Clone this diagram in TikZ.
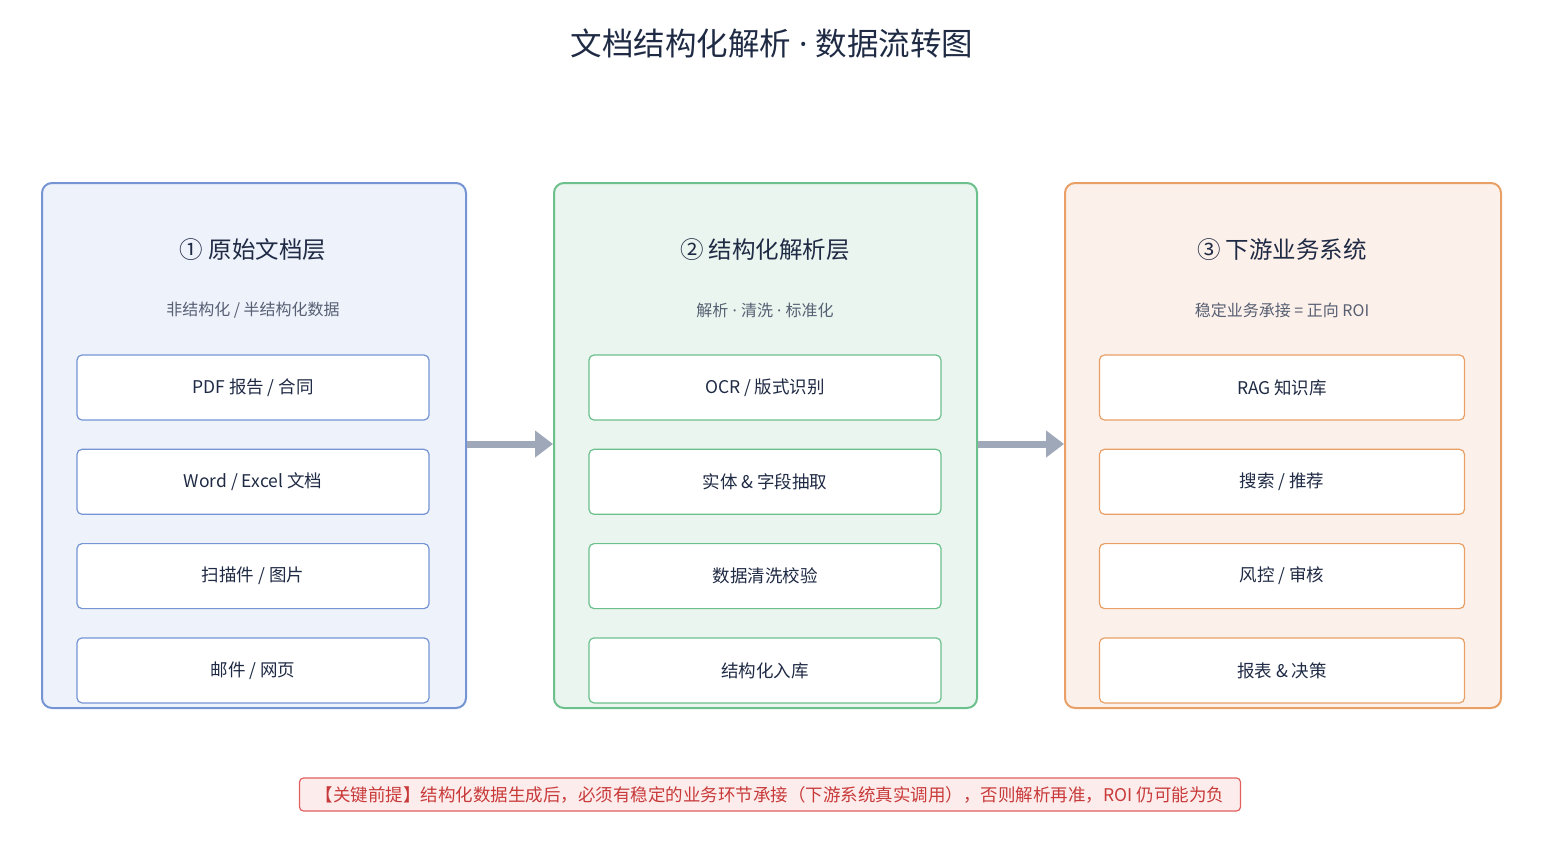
\documentclass[tikz,border=0pt]{standalone}
\usepackage{fontspec}
\setmainfont{Noto Sans CJK SC}
\newfontfamily\latn{Noto Sans}
\newcommand{\mdt}{{\latn\ ·\ }}
\usetikzlibrary{arrows.meta}
\definecolor{tc}{HTML}{1F2A44}
\definecolor{bb}{HTML}{7494D4}\definecolor{bf}{HTML}{EEF2FB}
\definecolor{gb}{HTML}{6CC08C}\definecolor{gf}{HTML}{E9F5EE}
\definecolor{ob}{HTML}{E8A066}\definecolor{of}{HTML}{FCF0EA}
\definecolor{ar}{HTML}{9EA8B8}\definecolor{nr}{HTML}{E06060}\definecolor{nf}{HTML}{FDECEC}\definecolor{nt}{HTML}{C83A3A}
\begin{document}
\begin{tikzpicture}[x=1pt,y=-1pt,
 panel/.style={draw,line width=2pt,rounded corners=10pt,anchor=north west,inner sep=0pt},
 item/.style={draw,line width=1.2pt,fill=white,rounded corners=5pt,minimum height=65pt,inner sep=0pt,font=\fontsize{17.5}{20}\selectfont,text=tc},
 head/.style={font=\fontsize{23.5}{26}\selectfont,text=tc},
 sub/.style={font=\fontsize{16}{18}\selectfont,text=tc!75},
 flow/.style={draw=ar,line width=7pt,-{Triangle[length=18pt,width=26pt]}}]
\useasboundingbox (0,0) rectangle (1545,854);
\node[font=\fontsize{31.5}{35}\selectfont,text=tc] (title) at (772,43) {文档结构化解析\mdt 数据流转图};
% panels
\node[panel,draw=bb,fill=bf,minimum width=424pt,minimum height=525pt] (p1) at (41,182) {};
\node[panel,draw=gb,fill=gf,minimum width=423pt,minimum height=525pt] (p2) at (553,182) {};
\node[panel,draw=ob,fill=of,minimum width=436pt,minimum height=525pt] (p3) at (1064,182) {};
\node[head] (h1) at (253,250) {① 原始文档层};
\node[head] (h2) at (765,250) {② 结构化解析层};
\node[head] (h3) at (1282,250) {③ 下游业务系统};
\node[sub] (s1) at (253,310) {非结构化 / 半结构化数据};
\node[sub] (s2) at (765,310) {解析\mdt 清洗\mdt 标准化};
\node[sub] (s3) at (1282,310) {稳定业务承接 = 正向 ROI};
\foreach \n/\t [count=\i] in {a/{PDF 报告 / 合同},b/{Word / Excel 文档},c/{扫描件 / 图片},d/{邮件 / 网页}}
 \node[item,draw=bb,minimum width=352pt] (l\n) at (253,{387.5+94.3*(\i-1)}) {\t};
\foreach \n/\t [count=\i] in {a/{OCR / 版式识别},b/{实体 \& 字段抽取},c/{数据清洗校验},d/{结构化入库}}
 \node[item,draw=gb,minimum width=352pt] (m\n) at (765,{387.5+94.3*(\i-1)}) {\t};
\foreach \n/\t [count=\i] in {a/{RAG 知识库},b/{搜索 / 推荐},c/{风控 / 审核},d/{报表 \& 决策}}
 \node[item,draw=ob,minimum width=365pt] (r\n) at (1282,{387.5+94.3*(\i-1)}) {\t};
\draw[flow] (p1.east |- 0,444) -- (p2.west |- 0,444);
\draw[flow] (p2.east |- 0,444) -- (p3.west |- 0,444);
\node[draw=nr,fill=nf,line width=1.2pt,rounded corners=4pt,minimum width=941pt,minimum height=33pt,inner sep=0pt,text=nt,font=\fontsize{17.5}{19}\selectfont] (note) at (770,794.5) {【关键前提】结构化数据生成后，必须有稳定的业务环节承接（下游系统真实调用），否则解析再准，ROI 仍可能为负};
\end{tikzpicture}
\end{document}
